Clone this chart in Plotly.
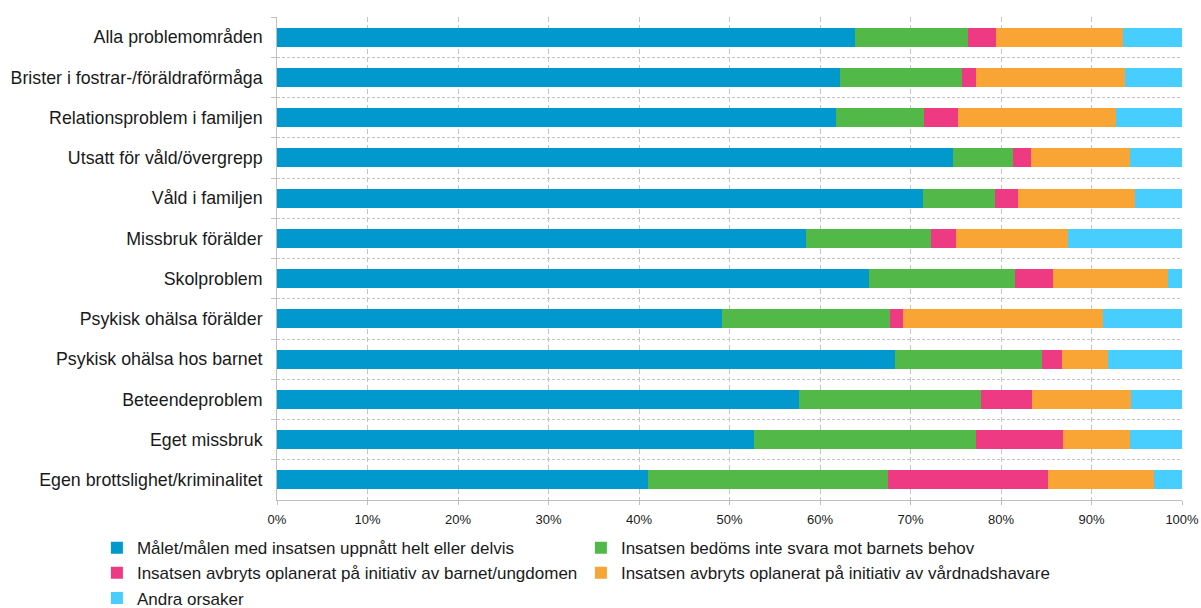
import plotly.graph_objects as go

categories = [
    "Alla problemområden",
    "Brister i fostrar-/föräldraförmåga",
    "Relationsproblem i familjen",
    "Utsatt för våld/övergrepp",
    "Våld i familjen",
    "Missbruk förälder",
    "Skolproblem",
    "Psykisk ohälsa förälder",
    "Psykisk ohälsa hos barnet",
    "Beteendeproblem",
    "Eget missbruk",
    "Egen brottslighet/kriminalitet",
]

series_names = [
    "Målet/målen med insatsen uppnått helt eller delvis",
    "Insatsen bedöms inte svara mot barnets behov",
    "Insatsen avbryts oplanerat på initiativ av barnet/ungdomen",
    "Insatsen avbryts oplanerat på initiativ av vårdnadshavare",
    "Andra orsaker",
]

malet = [63.9, 62.2, 61.8, 74.7, 71.4, 58.5, 65.4, 49.2, 68.3, 57.7, 52.7, 41.0]
inte_svara = [12.5, 13.5, 9.7, 6.6, 7.9, 13.8, 16.2, 18.5, 16.2, 20.1, 24.5, 26.5]
avbryts_barn = [3.0, 1.5, 3.8, 2.0, 2.6, 2.7, 4.2, 1.5, 2.2, 5.6, 9.6, 17.7]
avbryts_vh = [14.1, 16.5, 17.4, 11.0, 12.9, 12.4, 12.7, 22.1, 5.1, 11.0, 7.4, 11.7]
andra = [6.5, 6.3, 7.3, 5.7, 5.2, 12.6, 1.5, 8.7, 8.2, 5.6, 5.8, 3.1]

tick_vals = [0, 10, 20, 30, 40, 50, 60, 70, 80, 90, 100]
tick_text = [f"{v}%" for v in tick_vals]

colors = ["#0098CD", "#52B848", "#EE3A83", "#F9A535", "#48CDFF"]

fig = go.Figure()
for name, vals, col in zip(series_names, [malet, inte_svara, avbryts_barn, avbryts_vh, andra], colors):
    fig.add_trace(go.Bar(
        y=categories, x=vals, name=name, orientation="h",
        marker=dict(color=col, line=dict(width=0)),
    ))

fig.update_layout(
    barmode="stack",
    bargap=0.53,
    width=1201, height=608,
    margin=dict(l=277, r=19, t=17, b=108, autoexpand=False),
    paper_bgcolor="white", plot_bgcolor="white",
    font=dict(family="Liberation Sans, Arial, sans-serif", color="#1a1a1a"),
    showlegend=True,
    legend=dict(
        orientation="h",
        x=-0.199, y=-0.0625, xanchor="left", yanchor="top",
        font=dict(size=17, color="#1a1a1a"),
        entrywidth=439, entrywidthmode="pixels",
        itemwidth=30,
        tracegroupgap=0,
        traceorder="normal",
    ),
)

fig.update_xaxes(
    range=[0, 100],
    tickvals=tick_vals, ticktext=tick_text,
    tickfont=dict(size=13, color="#1a1a1a"),
    showgrid=True, gridcolor="#c4c4c4", griddash="5px,3px", gridwidth=1,
    zeroline=False,
    showline=True, linecolor="#bfbfbf", linewidth=1,
    ticks="outside", ticklen=4, tickcolor="#bfbfbf",
    ticklabelstandoff=3,
    automargin=False,
)
fig.update_yaxes(
    type="category",
    categoryorder="array", categoryarray=categories,
    autorange="reversed",
    tickson="boundaries",
    tickfont=dict(size=17.8, color="#1a1a1a"),
    showgrid=True, gridcolor="#c4c4c4", griddash="3px,2px", gridwidth=1,
    showline=True, linecolor="#bfbfbf", linewidth=1,
    ticks="outside", ticklen=5, tickcolor="#bfbfbf",
    ticksuffix="  ",
    automargin=False,
)

fig.write_html("out.html")
